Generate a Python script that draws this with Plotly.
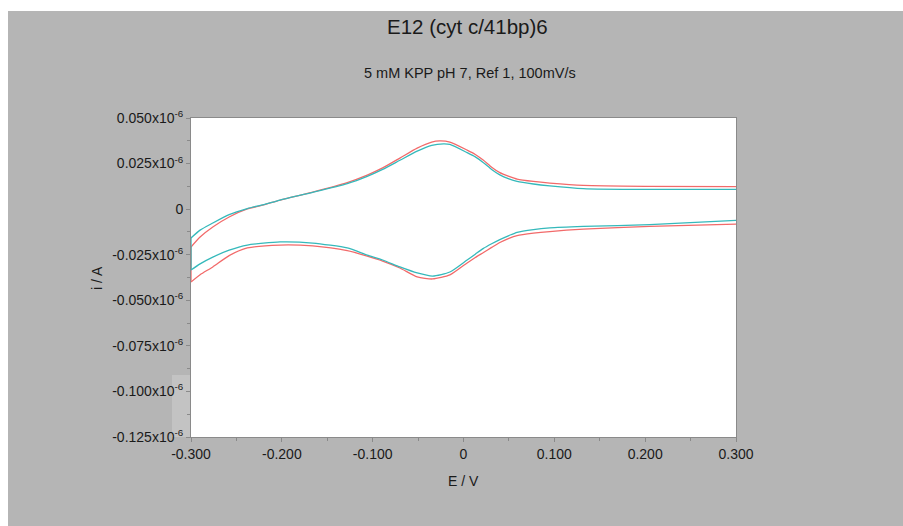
import numpy as np
import plotly.graph_objects as go

# Cyclic voltammograms: forward (anodic) sweep -0.3 -> 0.3 V, then reverse (cathodic) 0.3 -> -0.3 V
# currents in units of 1e-6 A
red_fwd_E = [-0.300, -0.290, -0.276, -0.258, -0.238, -0.220, -0.202, -0.166, -0.128, -0.106,
             -0.089, -0.070, -0.051, -0.035, -0.026, -0.015, 0.004, 0.013, 0.022, 0.031, 0.040,
             0.050, 0.059, 0.077, 0.095, 0.132, 0.200, 0.300]
red_fwd_i = [-0.0208, -0.0153, -0.0098, -0.0043, 0.0001, 0.0023, 0.0050, 0.0094, 0.0146, 0.0187,
             0.0226, 0.0280, 0.0335, 0.0368, 0.0374, 0.0368, 0.0324, 0.0300, 0.0268, 0.0230, 0.0200,
             0.0180, 0.0165, 0.0152, 0.0143, 0.0130, 0.0125, 0.0124]
red_rev_E = [0.300, 0.205, 0.132, 0.095, 0.077, 0.059, 0.050, 0.040, 0.031, 0.022, 0.013, 0.004,
             -0.015, -0.034, -0.051, -0.070, -0.089, -0.106, -0.128, -0.166, -0.202, -0.238,
             -0.258, -0.276, -0.290, -0.300]
red_rev_i = [-0.0082, -0.0095, -0.0110, -0.0123, -0.0132, -0.0145, -0.0160, -0.0183, -0.0210, -0.0238,
             -0.0265, -0.0295, -0.0361, -0.0383, -0.0372, -0.0323, -0.0285, -0.0258, -0.0228, -0.0202,
             -0.0197, -0.0213, -0.0255, -0.0317, -0.0360, -0.0400]

cyan_fwd_E = [-0.300, -0.290, -0.276, -0.258, -0.238, -0.220, -0.202, -0.166, -0.128, -0.106,
              -0.089, -0.070, -0.051, -0.035, -0.022, -0.015, 0.004, 0.013, 0.022, 0.031, 0.040,
              0.050, 0.059, 0.077, 0.095, 0.132, 0.200, 0.300]
cyan_fwd_i = [-0.0158, -0.0115, -0.0076, -0.0030, 0.0003, 0.0025, 0.0050, 0.0092, 0.0140, 0.0180,
              0.0218, 0.0268, 0.0318, 0.0350, 0.0358, 0.0355, 0.0310, 0.0287, 0.0255, 0.0218, 0.0188,
              0.0166, 0.0152, 0.0138, 0.0128, 0.0113, 0.0108, 0.0108]
cyan_rev_E = [0.300, 0.205, 0.132, 0.095, 0.077, 0.059, 0.050, 0.040, 0.031, 0.022, 0.013, 0.004,
              -0.015, -0.034, -0.051, -0.070, -0.089, -0.106, -0.128, -0.166, -0.202, -0.238,
              -0.258, -0.276, -0.290, -0.300]
cyan_rev_i = [-0.0062, -0.0085, -0.0095, -0.0103, -0.0112, -0.0127, -0.0145, -0.0167, -0.0190, -0.0215,
              -0.0247, -0.0279, -0.0345, -0.0367, -0.0350, -0.0317, -0.0279, -0.0252, -0.0213, -0.0186,
              -0.0180, -0.0197, -0.0225, -0.0263, -0.0300, -0.0334]

x_ticks = [-0.3, -0.2, -0.1, 0.0, 0.1, 0.2, 0.3]
x_labels = ["-0.300", "-0.200", "-0.100", "0", "0.100", "0.200", "0.300"]
y_ticks = [0.050, 0.025, 0.0, -0.025, -0.050, -0.075, -0.100, -0.125]
y_labels = ["0.050x10<sup>-6</sup>", "0.025x10<sup>-6</sup>", "0",
            "-0.025x10<sup>-6</sup>", "-0.050x10<sup>-6</sup>", "-0.075x10<sup>-6</sup>",
            "-0.100x10<sup>-6</sup>", "-0.125x10<sup>-6</sup>"]

SCALE = 1e-6
RED = "#f26a6a"
CYAN = "#35b9bb"
FONT = "Arial, Liberation Sans, sans-serif"
INK = "#1a1a1a"

fig = go.Figure()


def add_branch(E, i, color):
    fig.add_trace(go.Scatter(x=E, y=np.array(i) * SCALE, mode="lines",
                             line=dict(color=color, width=1.3, shape="spline", smoothing=0.6)))


def add_turn(E, i0, i1, color):
    # vertical segment where the sweep direction reverses
    fig.add_trace(go.Scatter(x=[E, E], y=[i0 * SCALE, i1 * SCALE], mode="lines",
                             line=dict(color=color, width=1.3)))


add_branch(red_fwd_E, red_fwd_i, RED)
add_branch(red_rev_E, red_rev_i, RED)
add_turn(red_rev_E[-1], red_rev_i[-1], red_fwd_i[0], RED)
add_branch(cyan_fwd_E, cyan_fwd_i, CYAN)
add_branch(cyan_rev_E, cyan_rev_i, CYAN)
add_turn(cyan_rev_E[-1], cyan_rev_i[-1], cyan_fwd_i[0], CYAN)

W, H = 903, 526
L, R, T, B = 191, 736, 118, 437
pw, ph = R - L, B - T


def px(xp):
    return (xp - L) / pw


def py(yp):
    return (B - yp) / ph


shapes = [
    # white strips along the top and left edge of the canvas
    dict(type="rect", xref="paper", yref="paper", x0=px(0), x1=px(W), y0=py(11), y1=py(0),
         fillcolor="white", line_width=0, layer="below"),
    dict(type="rect", xref="paper", yref="paper", x0=px(0), x1=px(8), y0=py(H), y1=py(0),
         fillcolor="white", line_width=0, layer="below"),
    # lighter patch beside the lower y labels
    dict(type="rect", xref="paper", yref="paper", x0=px(172), x1=px(190), y0=py(437), y1=py(375),
         fillcolor="#c3c3c3", line_width=0, layer="below"),
]


def label(text, x, y, size, angle=0):
    return dict(text=text, xref="paper", yref="paper", x=px(x), y=py(y), xanchor="center",
                yanchor="middle", textangle=angle, showarrow=False,
                font=dict(size=size, family=FONT, color=INK))


fig.update_layout(
    width=W, height=H,
    margin=dict(l=L, r=W - R, t=T, b=H - B),
    paper_bgcolor="#b5b5b5",
    plot_bgcolor="white",
    showlegend=False,
    font=dict(family=FONT, size=14, color=INK),
    shapes=shapes,
    annotations=[
        label("E12 (cyt c/41bp)6", 467, 26, 20.5),
        label("5 mM KPP pH 7, Ref 1, 100mV/s", 470, 73, 14.5),
        label("E / V", 463, 481, 14),
        label("i / A", 97, 278, 14, -90),
    ],
)

fig.update_xaxes(
    range=[-0.3, 0.3], tickvals=x_ticks, ticktext=x_labels,
    ticks="outside", ticklen=4, tickcolor="#8a8a8a",
    minor=dict(dtick=0.05, tick0=0, ticks="outside", ticklen=3, tickcolor="#8a8a8a"),
    showline=True, linecolor="#8a8a8a", linewidth=1, mirror=True,
    showgrid=False, zeroline=False, tickfont=dict(size=14, family=FONT, color=INK),
)
fig.update_yaxes(
    range=[-0.125 * SCALE, 0.05 * SCALE], tickvals=[v * SCALE for v in y_ticks], ticktext=y_labels,
    ticks="outside", ticklen=4, tickcolor="#8a8a8a",
    minor=dict(dtick=0.0125 * SCALE, tick0=0, ticks="outside", ticklen=3, tickcolor="#8a8a8a"),
    showline=True, linecolor="#8a8a8a", linewidth=1, mirror=True,
    showgrid=False, zeroline=False, tickfont=dict(size=14, family=FONT, color=INK),
)

fig.write_html("out.html")
